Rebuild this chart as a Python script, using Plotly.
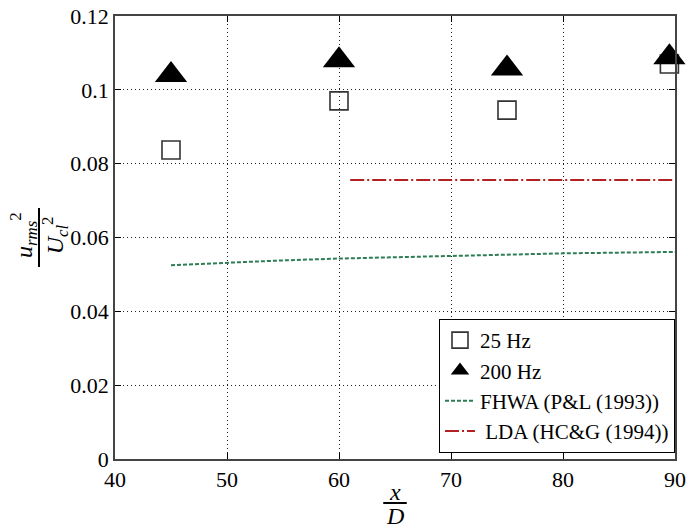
import plotly.graph_objects as go

# Data
x_25 = [45, 60, 75, 89.5]
y_25 = [0.0837, 0.0970, 0.0945, 0.1070]
x_200 = [45, 60, 75, 89.5]
y_200 = [0.1040, 0.1080, 0.1058, 0.1088]
x_fhwa = [45, 50, 55, 60, 65, 70, 75, 80, 85, 90]
y_fhwa = [0.0525, 0.0532, 0.0538, 0.0543, 0.0547, 0.0551, 0.0554, 0.0557, 0.0559, 0.0561]
x_lda = [61, 90]
y_lda = [0.0756, 0.0756]

x_ticks = [40, 50, 60, 70, 80, 90]
y_ticks = [0, 0.02, 0.04, 0.06, 0.08, 0.1, 0.12]
y_ticktext = ["0", "0.02", "0.04", "0.06", "0.08", "0.1", "0.12"]

FONT = "Liberation Serif"

fig = go.Figure()
fig.add_trace(go.Scatter(x=x_25, y=y_25, mode="markers", name="25 Hz",
                         marker=dict(symbol="square-open", size=18, color="#333333",
                                     line=dict(width=1.6, color="#333333")),
                         cliponaxis=False))
fig.add_trace(go.Scatter(x=x_200, y=y_200, mode="markers", name="200 Hz",
                         marker=dict(symbol="triangle-up", size=28, color="black",
                                     line=dict(width=0)),
                         cliponaxis=False))
fig.add_trace(go.Scatter(x=x_fhwa, y=y_fhwa, mode="lines", name="FHWA (P&L (1993))",
                         line=dict(color="#2e7d55", width=2, dash="4px,2px")))
fig.add_trace(go.Scatter(x=x_lda, y=y_lda, mode="lines", name=" LDA (HC&G (1994))",
                         line=dict(color="#b22222", width=2, dash="14px,3px,2px,3px")))

axis_common = dict(showline=True, linecolor="#444444", linewidth=1.5, mirror="ticks",
                   ticks="inside", ticklen=6, tickcolor="black", automargin=False,
                   showgrid=True, gridcolor="#222222", gridwidth=1, griddash="1px,3px",
                   zeroline=False, tickfont=dict(family=FONT, size=22, color="black"))

fig.update_xaxes(range=[40, 90], tickvals=x_ticks, **axis_common)
fig.update_yaxes(range=[0, 0.12], tickvals=y_ticks, ticktext=y_ticktext, **axis_common)

# Axis titles as fractions
fig.add_annotation(text="<i>u</i><sub><i>rms</i></sub><sup>2</sup>", xref="paper", yref="paper",
                   x=-0.163, y=0.505, xanchor="center", yanchor="middle",
                   textangle=-90, showarrow=False,
                   font=dict(family=FONT, size=24, color="black"))
fig.add_annotation(text="<i>U</i><sub><i>cl</i></sub><sup>2</sup>", xref="paper", yref="paper",
                   x=-0.107, y=0.505, xanchor="center", yanchor="middle",
                   textangle=-90, showarrow=False,
                   font=dict(family=FONT, size=24, color="black"))
fig.add_shape(type="line", xref="paper", yref="paper", x0=-0.1357, x1=-0.1357,
              y0=0.4334, y1=0.5666, line=dict(color="black", width=2))

fig.add_annotation(text="<i>x</i>", xref="paper", yref="paper", x=0.5, y=-0.074,
                   xanchor="center", yanchor="middle",
                   showarrow=False, font=dict(family=FONT, size=24, color="black"))
fig.add_annotation(text="<i>D</i>", xref="paper", yref="paper", x=0.5, y=-0.128,
                   xanchor="center", yanchor="middle",
                   showarrow=False, font=dict(family=FONT, size=24, color="black"))
fig.add_shape(type="line", xref="paper", yref="paper", x0=0.479, x1=0.521,
              y0=-0.0993, y1=-0.0993, line=dict(color="black", width=2))

fig.update_layout(
    width=688, height=529,
    margin=dict(l=115, r=13, t=16, b=70, autoexpand=False),
    paper_bgcolor="white", plot_bgcolor="white",
    font=dict(family=FONT, size=22, color="black"),
    showlegend=True,
    legend=dict(x=1.0, y=0.0135, xanchor="right", yanchor="bottom",
                bgcolor="white", bordercolor="black", borderwidth=1,
                font=dict(family=FONT, size=21, color="black"),
                tracegroupgap=0, itemwidth=30),
)

fig.write_html("out.html")
